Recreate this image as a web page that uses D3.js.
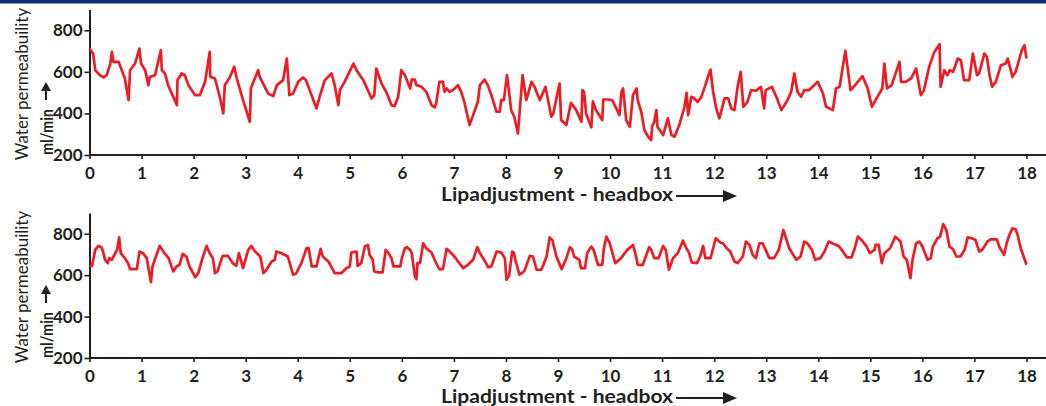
<!DOCTYPE html>
<html>
<head>
<meta charset="utf-8">
<script src="https://cdn.jsdelivr.net/npm/d3@7"></script>
<style>
body{margin:0;background:#fff;}
svg{display:block;}
</style>
</head>
<body>
<svg id="svg" width="1046" height="406"></svg>
<script>
var topX=[0,0.07,0.11,0.2,0.27,0.33,0.4,0.43,0.46,0.56,0.62,0.68,0.75,0.78,0.875,0.96,0.99,1.07,1.13,1.16,1.26,1.37,1.39,1.45,1.51,1.68,1.69,1.77,1.83,1.9,2.03,2.12,2.22,2.31,2.32,2.41,2.51,2.57,2.6,2.7,2.78,2.83,2.95,3.08,3.1,3.15,3.24,3.27,3.43,3.53,3.6,3.72,3.79,3.84,3.91,4.01,4.1,4.16,4.23,4.36,4.43,4.52,4.65,4.71,4.78,4.81,4.9,5.07,5.13,5.26,5.42,5.47,5.51,5.61,5.7,5.8,5.86,5.93,5.99,6.06,6.16,6.19,6.25,6.28,6.38,6.47,6.57,6.63,6.66,6.72,6.79,6.82,6.86,6.92,6.98,7.08,7.14,7.2,7.3,7.37,7.46,7.5,7.59,7.65,7.72,7.82,7.88,7.91,7.96,8.02,8.06,8.1,8.16,8.23,8.32,8.39,8.41,8.49,8.55,8.65,8.76,8.87,8.91,9.03,9.06,9.16,9.25,9.35,9.45,9.47,9.5,9.54,9.64,9.67,9.73,9.79,9.85,9.87,9.96,10.04,10.12,10.18,10.22,10.25,10.31,10.38,10.44,10.51,10.53,10.6,10.66,10.73,10.79,10.81,10.85,10.89,10.91,11.02,11.11,11.18,11.24,11.34,11.43,11.47,11.5,11.56,11.62,11.68,11.75,11.82,11.88,11.93,11.98,12.04,12.1,12.2,12.27,12.33,12.39,12.45,12.51,12.56,12.64,12.71,12.8,12.9,12.96,12.99,13.11,13.22,13.29,13.41,13.48,13.54,13.6,13.67,13.73,13.82,13.99,14.09,14.15,14.28,14.34,14.41,14.52,14.62,14.68,14.76,14.85,14.95,15.03,15.1,15.23,15.27,15.32,15.41,15.56,15.59,15.68,15.78,15.88,15.97,16.03,16.13,16.23,16.33,16.35,16.42,16.48,16.53,16.59,16.68,16.74,16.8,16.9,16.97,17.05,17.09,17.19,17.24,17.29,17.34,17.41,17.51,17.6,17.64,17.73,17.79,17.91,17.96,18];
var topY=[712,688,608,584,573,584,640,696,648,648,608,568,464,608,640,712,640,608,536,576,584,704,608,592,536,440,560,592,584,536,488,488,552,696,576,568,472,400,536,576,624,568,464,360,520,552,608,576,496,483,536,560,664,488,496,552,573,560,512,424,488,560,592,536,440,512,552,640,608,560,472,488,616,544,504,440,435,480,608,584,520,563,563,536,528,504,440,429,448,552,552,504,520,504,512,536,504,456,344,392,456,536,563,536,488,408,408,464,464,584,504,416,384,304,584,464,480,552,528,464,528,384,400,544,368,344,451,416,360,512,504,400,333,458,416,392,368,467,467,464,424,392,504,520,368,336,488,520,464,408,320,288,272,339,360,416,336,296,376,296,288,352,432,499,392,480,472,456,477,528,576,611,504,424,376,472,472,424,416,528,600,432,456,512,509,528,424,512,528,464,416,464,504,592,504,480,512,512,552,496,432,416,520,528,701,512,528,552,579,520,432,464,520,640,520,536,648,552,552,568,616,488,512,624,696,733,528,608,584,608,600,664,656,560,560,688,584,592,688,672,584,528,552,632,640,664,576,600,704,728,664];

var bottomX=[0,0.05,0.11,0.17,0.23,0.26,0.3,0.35,0.38,0.43,0.46,0.53,0.57,0.6,0.68,0.74,0.78,0.91,0.96,1.03,1.1,1.18,1.21,1.32,1.35,1.44,1.52,1.61,1.67,1.73,1.79,1.86,1.92,2.03,2.09,2.16,2.25,2.31,2.37,2.41,2.46,2.53,2.56,2.66,2.75,2.82,2.87,2.95,3.05,3.11,3.18,3.28,3.34,3.4,3.5,3.56,3.59,3.69,3.81,3.91,3.97,4.07,4.17,4.21,4.27,4.36,4.44,4.48,4.59,4.71,4.84,4.94,5.0,5.03,5.13,5.15,5.22,5.29,5.35,5.38,5.44,5.47,5.54,5.63,5.69,5.74,5.8,5.84,5.97,6.0,6.06,6.1,6.16,6.19,6.25,6.28,6.3,6.35,6.41,6.47,6.57,6.63,6.72,6.79,6.86,6.92,7.01,7.08,7.18,7.27,7.37,7.45,7.5,7.6,7.66,7.72,7.82,7.91,7.98,8.01,8.06,8.12,8.15,8.18,8.26,8.35,8.46,8.52,8.59,8.68,8.72,8.78,8.84,8.89,8.97,9.07,9.16,9.23,9.27,9.31,9.41,9.44,9.52,9.56,9.64,9.68,9.77,9.85,9.88,9.93,9.99,10.1,10.21,10.33,10.44,10.5,10.53,10.63,10.75,10.79,10.85,10.93,11.02,11.07,11.13,11.21,11.3,11.4,11.45,11.52,11.57,11.67,11.73,11.79,11.83,11.93,12.03,12.12,12.17,12.24,12.31,12.39,12.45,12.55,12.61,12.68,12.74,12.8,12.87,12.93,12.99,13.06,13.15,13.24,13.33,13.37,13.44,13.5,13.58,13.66,13.73,13.79,13.88,13.94,14.04,14.12,14.2,14.29,14.39,14.45,14.55,14.64,14.7,14.76,14.83,14.93,14.99,15.08,15.1,15.16,15.22,15.27,15.38,15.48,15.58,15.64,15.7,15.77,15.81,15.88,15.94,16.0,16.1,16.16,16.2,16.29,16.34,16.4,16.46,16.52,16.59,16.65,16.73,16.81,16.87,16.95,17.02,17.09,17.15,17.25,17.31,17.43,17.48,17.57,17.62,17.67,17.73,17.79,17.83,17.89,18];
var bottomY=[645,645,722,741,735,714,674,658,682,674,690,722,782,706,682,658,629,629,714,706,682,566,642,722,741,706,682,618,642,650,703,690,642,590,610,674,741,706,682,610,618,674,693,693,658,645,706,634,722,741,714,690,610,626,666,674,714,706,690,602,608,658,730,730,642,642,727,690,666,610,610,634,642,709,714,645,658,738,746,698,674,618,613,613,722,709,682,642,642,682,730,735,722,706,594,581,658,658,754,730,709,674,629,629,727,714,690,666,634,650,674,735,706,666,638,642,714,709,682,578,597,714,709,674,602,618,693,690,626,626,650,690,782,770,690,629,682,735,725,690,674,634,634,706,738,725,650,650,727,786,757,658,682,722,746,690,650,650,735,722,682,682,741,722,626,682,706,766,738,706,661,658,690,741,682,682,778,757,754,730,714,666,658,690,762,746,698,682,754,754,722,682,682,722,818,786,730,706,674,690,762,754,722,674,682,714,762,751,741,722,686,686,730,786,770,738,706,722,746,746,658,706,730,786,762,690,674,585,674,754,762,738,674,682,738,778,786,846,818,738,725,690,690,722,782,778,770,714,722,762,773,773,735,698,754,794,826,821,794,730,650];

var xTicks=d3.range(0,19);
var yTicks=[200,400,600,800];

var svg=d3.select("#svg");
var lineColor="#ed1c24";
var axisColor="#231f20";
var font="Lato, 'Open Sans', sans-serif";

var xScale=d3.scaleLinear().domain([0,18]).range([89.5,1026.5]);

svg.append("rect")
    .attr("x",0).attr("y",0)
    .attr("width",1046).attr("height",3.5)
    .attr("fill","#0d3170");

function drawPanel(xs, ys, top, bottom, titleY){
    var yScale=d3.scaleLinear().domain([200,900]).range([bottom,top]);
    var g=svg.append("g");

    // x axis
    var xa=g.append("g")
        .attr("transform","translate(0,"+bottom+")")
        .call(d3.axisBottom(xScale).tickValues(xTicks).tickSize(4).tickSizeOuter(0).tickPadding(8));
    xa.select(".domain").remove();
    xa.append("line")
        .attr("x1",89.5).attr("x2",1046)
        .attr("stroke",axisColor).attr("stroke-width",2);
    xa.selectAll(".tick line").attr("stroke",axisColor).attr("stroke-width",1.6);
    xa.selectAll("text")
        .attr("fill",axisColor)
        .style("font-family",font).style("font-weight","bold").style("font-size","17px");

    // y axis
    var ya=g.append("g")
        .attr("transform","translate(89.5,0)")
        .call(d3.axisLeft(yScale).tickValues(yTicks).tickSize(5).tickSizeOuter(0).tickPadding(2));
    ya.select(".domain").attr("stroke",axisColor).attr("stroke-width",2);
    ya.selectAll(".tick line").attr("stroke",axisColor).attr("stroke-width",1.6);
    ya.selectAll("text")
        .attr("fill",axisColor)
        .style("font-family",font).style("font-weight","bold").style("font-size","17px");

    // y title
    g.append("text")
        .attr("transform","translate(28,"+(bottom-71)+") rotate(-90)")
        .attr("text-anchor","middle")
        .attr("fill",axisColor)
        .style("font-family",font).style("font-size","17px")
        .text("Water permeabuility");
    g.append("text")
        .attr("transform","translate(53,"+bottom+") rotate(-90)")
        .attr("text-anchor","start")
        .attr("fill",axisColor)
        .attr("textLength",46).attr("lengthAdjust","spacingAndGlyphs")
        .style("font-family",font).style("font-weight","bold").style("font-size","17px")
        .text("ml/min");
    var ax=46, ay=bottom-55;
    g.append("line")
        .attr("x1",ax).attr("x2",ax).attr("y1",ay).attr("y2",ay-10)
        .attr("stroke",axisColor).attr("stroke-width",2);
    g.append("path")
        .attr("d","M"+(ax-5)+","+(ay-9)+"L"+ax+","+(ay-18)+"L"+(ax+5)+","+(ay-9)+"Z")
        .attr("fill",axisColor);

    // x title + arrow
    g.append("text")
        .attr("x",441).attr("y",titleY)
        .attr("text-anchor","start")
        .attr("fill",axisColor)
        .attr("textLength",232).attr("lengthAdjust","spacingAndGlyphs")
        .style("font-family",font).style("font-weight","bold").style("font-size","18px")
        .text("Lipadjustment - headbox");
    var ly=titleY-5;
    g.append("line")
        .attr("x1",676).attr("x2",724).attr("y1",ly).attr("y2",ly)
        .attr("stroke",axisColor).attr("stroke-width",1.8);
    g.append("path")
        .attr("d","M723,"+(ly-6)+"L737,"+ly+"L723,"+(ly+6)+"Z")
        .attr("fill",axisColor);

    // series
    var line=d3.line()
        .x(function(d){return xScale(d[0]);})
        .y(function(d){return yScale(d[1]);});
    g.append("path")
        .datum(d3.zip(xs,ys))
        .attr("fill","none")
        .attr("stroke",lineColor)
        .attr("stroke-width",2.7)
        .attr("stroke-linejoin","round")
        .attr("d",line);
}

drawPanel(topX, topY, 9.5, 155, 201);
drawPanel(bottomX, bottomY, 213, 358, 403);
</script>
</body>
</html>
